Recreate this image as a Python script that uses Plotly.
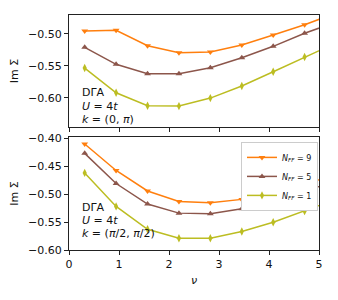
import plotly.graph_objects as go

nu = [0.314, 0.942, 1.571, 2.199, 2.827, 3.456, 4.084, 4.712, 5.341]

top_n9 = [-0.4958, -0.4947, -0.5188, -0.5297, -0.5286, -0.5177, -0.5020, -0.4860, -0.4677]
top_n5 = [-0.5213, -0.5478, -0.5625, -0.5625, -0.5530, -0.5375, -0.5197, -0.4994, -0.4817]
top_n1 = [-0.5536, -0.5922, -0.6125, -0.6130, -0.6005, -0.5817, -0.5594, -0.5364, -0.5145]

bot_n9 = [-0.4103, -0.4577, -0.4944, -0.5130, -0.5153, -0.5094, -0.4962, -0.4810, -0.4660]
bot_n5 = [-0.4270, -0.4810, -0.5178, -0.5340, -0.5351, -0.5261, -0.5117, -0.4950, -0.4770]
bot_n1 = [-0.4620, -0.5220, -0.5629, -0.5790, -0.5790, -0.5670, -0.5503, -0.5305, -0.5094]

n_ff = ["9", "5", "1"]
colors = ["#ff7f0e", "#8c564b", "#bcbd22"]
symbols = ["triangle-down", "triangle-up", "diamond-tall"]
tops = [top_n9, top_n5, top_n1]
bots = [bot_n9, bot_n5, bot_n1]

fig = go.Figure()
for n, col, sym, ytop, ybot in zip(n_ff, colors, symbols, tops, bots):
    fig.add_trace(go.Scatter(x=nu, y=ytop, mode="lines+markers", xaxis="x", yaxis="y",
                             line=dict(color=col, width=1.5),
                             marker=dict(symbol=sym, size=6, color=col),
                             showlegend=False))
    fig.add_trace(go.Scatter(x=nu, y=ybot, mode="lines+markers", xaxis="x2", yaxis="y2",
                             line=dict(color=col, width=1.5),
                             marker=dict(symbol=sym, size=6, color=col),
                             name="<i>N</i><sub><i>FF</i></sub> = " + n))

axis_common = dict(showline=True, linecolor="#222", linewidth=1, mirror=True,
                   ticks="outside", ticklen=4, tickcolor="#222", showgrid=False,
                   zeroline=False, automargin=False, tickfont=dict(size=11, color="#111"))

top_ticks = [-0.60, -0.55, -0.50]
bot_ticks = [-0.60, -0.55, -0.50, -0.45, -0.40]
x_ticks = [0, 1, 2, 3, 4, 5]

fig.update_layout(
    width=338, height=300,
    margin=dict(l=61, r=27, t=7, b=58),
    paper_bgcolor="white", plot_bgcolor="white",
    font=dict(family="DejaVu Sans", size=11, color="#111"),
    xaxis=dict(domain=[0, 1], range=[0, 5], anchor="y", tickvals=x_ticks,
               showticklabels=False, **axis_common),
    yaxis=dict(domain=[0.523, 1], range=[-0.6458, -0.4708], anchor="x",
               tickvals=top_ticks, ticktext=["−%.2f" % abs(v) for v in top_ticks],
               title=dict(text="Im Σ", standoff=8, font=dict(size=11)), **axis_common),
    xaxis2=dict(domain=[0, 1], range=[0, 5], anchor="y2", tickvals=x_ticks,
                title=dict(text="<i>ν</i>", standoff=6, font=dict(size=11)), **axis_common),
    yaxis2=dict(domain=[0, 0.481], range=[-0.6, -0.3977], anchor="x2",
                tickvals=bot_ticks, ticktext=["−%.2f" % abs(v) for v in bot_ticks],
                title=dict(text="Im Σ", standoff=8, font=dict(size=11)), **axis_common),
    legend=dict(x=0.996, y=0.46, xanchor="right", yanchor="top",
                bordercolor="#ccc", borderwidth=1, bgcolor="white",
                font=dict(size=8), tracegroupgap=0, itemwidth=30),
)

def add_labels(xref, yref, ys, ktext):
    texts = ["DΓA", "<i>U</i> = 4<i>t</i>", ktext]
    for t, yv in zip(texts, ys):
        fig.add_annotation(text=t, xref=xref, yref=yref, x=0.044, y=yv,
                           xanchor="left", yanchor="middle", showarrow=False,
                           font=dict(size=11, color="#111"))

add_labels("x domain", "y domain", [0.3125, 0.1875, 0.071], "<i>k</i> = (0, <i>π</i>)")
add_labels("x2 domain", "y2 domain", [0.372, 0.265, 0.142], "<i>k</i> = (<i>π</i>/2, <i>π</i>/2)")

fig.write_html("out.html")
